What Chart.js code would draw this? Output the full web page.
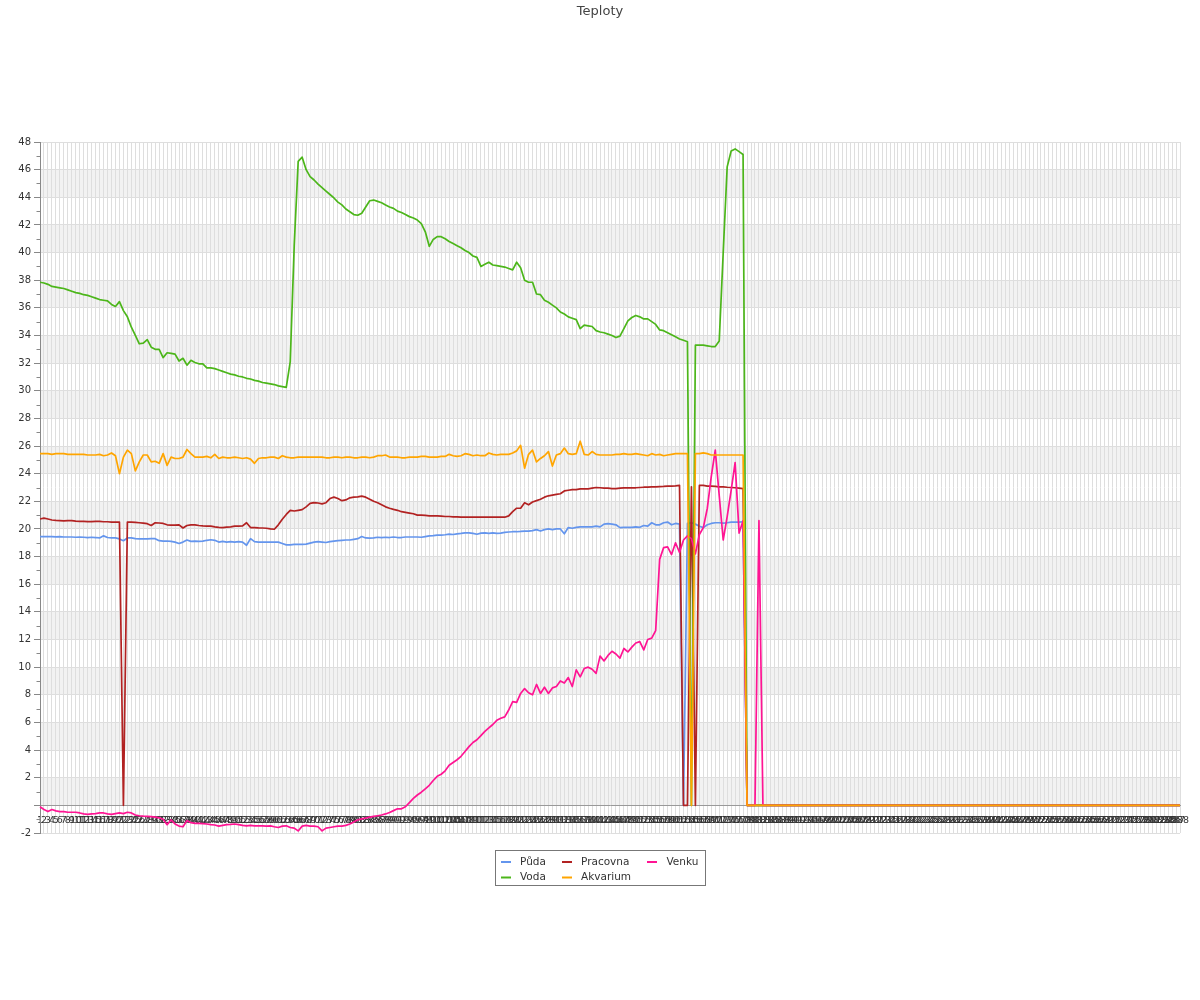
<!DOCTYPE html>
<html><head><meta charset="utf-8">
<script src="https://cdn.jsdelivr.net/npm/chart.js@4"></script>
<style>html,body{margin:0;padding:0;background:#fff;} #wrap{width:1200px;height:1000px;position:relative;}</style>
</head><body><div id="wrap"><canvas id="c" width="1200" height="1000"></canvas></div>
<script>
const chartTitle = 'Teploty';
const categories = '1 2 3 4 5 6 7 8 9 10 11 12 13 14 15 16 17 18 19 20 21 22 23 24 25 26 27 28 29 30 31 32 33 34 35 36 37 38 39 40 41 42 43 44 45 46 47 48 49 50 51 52 53 54 55 56 57 58 59 60 61 62 63 64 65 66 67 68 69 70 71 72 73 74 75 76 77 78 79 80 81 82 83 84 85 86 87 88 89 90 91 92 93 94 95 96 97 98 99 100 101 102 103 104 105 106 107 108 109 110 111 112 113 114 115 116 117 118 119 120 121 122 123 124 125 126 127 128 129 130 131 132 133 134 135 136 137 138 139 140 141 142 143 144 145 146 147 148 149 150 151 152 153 154 155 156 157 158 159 160 161 162 163 164 165 166 167 168 169 170 171 172 173 174 175 176 177 178 179 180 181 182 183 184 185 186 187 188 189 190 191 192 193 194 195 196 197 198 199 200 201 202 203 204 205 206 207 208 209 210 211 212 213 214 215 216 217 218 219 220 221 222 223 224 225 226 227 228 229 230 231 232 233 234 235 236 237 238 239 240 241 242 243 244 245 246 247 248 249 250 251 252 253 254 255 256 257 258 259 260 261 262 263 264 265 266 267 268 269 270 271 272 273 274 275 276 277 278 279 280 281 282 283 284 285 286 287 288'.split(' ');
const seriesNames = ['Půda', 'Voda', 'Pracovna', 'Akvarium', 'Venku'];

const puda = [
19.45,19.45,19.45,19.45,19.43,19.45,19.42,19.42,19.42,19.4,
19.42,19.4,19.38,19.4,19.38,19.35,19.5,19.38,19.35,19.35,
19.28,19.15,19.35,19.35,19.3,19.28,19.28,19.28,19.3,19.3,
19.15,19.12,19.13,19.1,19.05,18.95,19.05,19.2,19.1,19.12,
19.1,19.12,19.18,19.22,19.18,19.05,19.1,19.05,19.08,19.05,
19.08,19.05,18.82,19.3,19.08,19.05,19.05,19.05,19.05,19.05,
19.05,18.95,18.85,18.85,18.88,18.88,18.88,18.9,18.98,19.05,
19.08,19.05,19.02,19.08,19.12,19.15,19.18,19.2,19.2,19.25,
19.3,19.45,19.35,19.33,19.35,19.4,19.38,19.4,19.38,19.42,
19.38,19.38,19.42,19.42,19.42,19.42,19.4,19.45,19.5,19.52,
19.55,19.55,19.58,19.62,19.6,19.65,19.68,19.72,19.72,19.68,
19.62,19.7,19.72,19.68,19.72,19.68,19.7,19.75,19.78,19.8,
19.8,19.82,19.85,19.85,19.88,19.95,19.85,19.95,20.0,19.95,
20.0,20.0,19.65,20.1,20.05,20.12,20.15,20.15,20.15,20.15,
20.2,20.15,20.35,20.38,20.35,20.3,20.1,20.12,20.12,20.12,
20.15,20.12,20.25,20.2,20.45,20.3,20.3,20.45,20.5,20.3,
20.4,20.35,0,20.4,20.45,20.35,20.2,20.1,20.3,20.4,
20.45,20.45,20.42,20.45,20.5,20.5,20.5,20.52,
0,0,0,0,0,0,0,0,0,0,0,0,0,0,0,0,0,0,0,0,0,0,0,0,0,0,0,0,0,0,0,0,0,0,0,0,0,0,0,0,0,0,0,0,0,0,0,0,0,0,0,0,0,0,0,
0,0,0,0,0,0,0,0,0,0,0,0,0,0,0,0,0,0,0,0,0,0,0,0,0,0,0,0,0,0,0,0,0,0,0,0,0,0,0,0,0,0,0,0,0,0,0,0,0,0,0,0,0,0,0
];
const voda = [
37.85,37.8,37.7,37.55,37.5,37.45,37.4,37.3,37.2,37.1,
37.05,36.95,36.9,36.8,36.7,36.6,36.55,36.5,36.25,36.1,
36.45,35.8,35.35,34.6,34.0,33.4,33.45,33.7,33.15,33.0,
33.0,32.4,32.75,32.7,32.65,32.15,32.35,31.85,32.2,32.05,
31.95,31.95,31.65,31.65,31.6,31.5,31.4,31.3,31.2,31.15,
31.05,31.0,30.9,30.85,30.75,30.7,30.6,30.55,30.5,30.45,
30.35,30.3,30.25,32.1,40.5,46.6,46.9,46.0,45.5,45.25,
44.95,44.7,44.45,44.2,43.95,43.65,43.45,43.15,42.95,42.75,
42.7,42.85,43.3,43.75,43.8,43.7,43.6,43.45,43.3,43.2,
43.0,42.9,42.75,42.6,42.5,42.35,42.1,41.5,40.45,40.95,
41.15,41.15,41.0,40.8,40.65,40.5,40.35,40.15,40.0,39.75,
39.65,39.0,39.15,39.3,39.1,39.05,39.0,38.95,38.85,38.75,
39.3,38.9,38.0,37.85,37.85,37.0,36.95,36.55,36.4,36.2,
36.0,35.7,35.55,35.35,35.25,35.15,34.5,34.75,34.7,34.65,
34.35,34.25,34.2,34.1,34.0,33.85,33.95,34.5,35.05,35.3,
35.45,35.35,35.2,35.2,35.0,34.8,34.4,34.35,34.2,34.05,
33.9,33.75,33.65,33.55,0,33.3,33.3,33.3,33.25,33.2,
33.2,33.6,40.0,46.2,47.35,47.5,47.3,47.1,
0,0,0,0,0,0,0,0,0,0,0,0,0,0,0,0,0,0,0,0,0,0,0,0,0,0,0,0,0,0,0,0,0,0,0,0,0,0,0,0,0,0,0,0,0,0,0,0,0,0,0,0,0,0,0,
0,0,0,0,0,0,0,0,0,0,0,0,0,0,0,0,0,0,0,0,0,0,0,0,0,0,0,0,0,0,0,0,0,0,0,0,0,0,0,0,0,0,0,0,0,0,0,0,0,0,0,0,0,0,0
];
const pracovna = [
20.72,20.78,20.72,20.65,20.62,20.6,20.58,20.6,20.6,20.57,
20.55,20.55,20.53,20.53,20.55,20.55,20.52,20.52,20.5,20.5,
20.5,0,20.5,20.5,20.48,20.45,20.42,20.38,20.25,20.45,
20.43,20.4,20.3,20.28,20.28,20.3,20.07,20.25,20.3,20.3,
20.25,20.22,20.2,20.2,20.15,20.12,20.1,20.13,20.15,20.2,
20.2,20.22,20.45,20.1,20.1,20.08,20.07,20.05,20.0,19.98,
20.3,20.7,21.05,21.35,21.3,21.35,21.4,21.6,21.85,21.9,
21.88,21.82,21.9,22.2,22.3,22.2,22.05,22.1,22.25,22.3,
22.32,22.38,22.3,22.15,22.0,21.9,21.75,21.6,21.5,21.42,
21.35,21.25,21.2,21.15,21.1,21.0,21.0,20.98,20.95,20.95,
20.95,20.93,20.9,20.9,20.88,20.88,20.85,20.85,20.85,20.85,
20.85,20.85,20.85,20.85,20.85,20.85,20.85,20.85,20.95,21.25,
21.5,21.5,21.9,21.75,21.95,22.05,22.15,22.3,22.4,22.45,
22.5,22.55,22.75,22.8,22.85,22.85,22.9,22.9,22.9,22.95,
23.0,22.98,22.95,22.95,22.92,22.92,22.95,22.97,22.97,22.97,
22.98,23.0,23.02,23.03,23.05,23.05,23.07,23.08,23.1,23.1,
23.12,23.15,0,0,23.05,0,23.15,23.15,23.1,23.1,
23.08,23.05,23.05,23.02,23.0,22.98,22.95,22.92,
0,0,0,0,0,0,0,0,0,0,0,0,0,0,0,0,0,0,0,0,0,0,0,0,0,0,0,0,0,0,0,0,0,0,0,0,0,0,0,0,0,0,0,0,0,0,0,0,0,0,0,0,0,0,0,
0,0,0,0,0,0,0,0,0,0,0,0,0,0,0,0,0,0,0,0,0,0,0,0,0,0,0,0,0,0,0,0,0,0,0,0,0,0,0,0,0,0,0,0,0,0,0,0,0,0,0,0,0,0,0
];
const akvarium = [
25.45,25.45,25.45,25.4,25.45,25.45,25.45,25.4,25.4,25.4,
25.4,25.4,25.35,25.35,25.35,25.4,25.3,25.35,25.5,25.3,
24.0,25.2,25.7,25.45,24.2,24.85,25.35,25.35,24.85,24.9,
24.75,25.45,24.6,25.2,25.1,25.1,25.2,25.75,25.45,25.2,
25.2,25.2,25.25,25.15,25.4,25.1,25.2,25.15,25.15,25.2,
25.15,25.1,25.15,25.05,24.75,25.1,25.15,25.15,25.2,25.2,
25.1,25.3,25.2,25.15,25.15,25.2,25.2,25.2,25.2,25.2,
25.2,25.2,25.15,25.15,25.2,25.2,25.15,25.2,25.2,25.15,
25.15,25.2,25.2,25.15,25.2,25.3,25.3,25.35,25.2,25.2,
25.2,25.15,25.15,25.2,25.2,25.2,25.25,25.25,25.2,25.2,
25.2,25.25,25.25,25.4,25.3,25.25,25.3,25.45,25.4,25.3,
25.35,25.3,25.3,25.5,25.4,25.35,25.4,25.4,25.4,25.5,
25.65,26.05,24.4,25.4,25.7,24.85,25.1,25.3,25.6,24.55,
25.35,25.45,25.85,25.45,25.4,25.45,26.35,25.4,25.35,25.6,
25.4,25.35,25.35,25.35,25.35,25.4,25.4,25.45,25.4,25.4,
25.45,25.4,25.35,25.3,25.45,25.35,25.4,25.3,25.35,25.4,
25.45,25.45,25.45,25.45,0,25.45,25.45,25.5,25.45,25.35,
25.35,25.35,25.35,25.35,25.35,25.35,25.35,25.35,
0,0,0,0,0,0,0,0,0,0,0,0,0,0,0,0,0,0,0,0,0,0,0,0,0,0,0,0,0,0,0,0,0,0,0,0,0,0,0,0,0,0,0,0,0,0,0,0,0,0,0,0,0,0,0,
0,0,0,0,0,0,0,0,0,0,0,0,0,0,0,0,0,0,0,0,0,0,0,0,0,0,0,0,0,0,0,0,0,0,0,0,0,0,0,0,0,0,0,0,0,0,0,0,0,0,0,0,0,0,0
];
const venku = [
-0.1,-0.3,-0.45,-0.3,-0.4,-0.45,-0.45,-0.5,-0.5,-0.5,
-0.55,-0.62,-0.65,-0.62,-0.6,-0.55,-0.55,-0.62,-0.65,-0.6,
-0.55,-0.6,-0.5,-0.55,-0.7,-0.75,-0.78,-0.8,-0.82,-0.85,
-0.9,-1.0,-1.4,-1.05,-1.35,-1.5,-1.55,-1.1,-1.25,-1.3,
-1.3,-1.32,-1.35,-1.4,-1.42,-1.5,-1.45,-1.4,-1.38,-1.35,
-1.4,-1.45,-1.48,-1.45,-1.48,-1.48,-1.48,-1.5,-1.48,-1.55,
-1.6,-1.5,-1.48,-1.6,-1.65,-1.85,-1.5,-1.45,-1.5,-1.5,
-1.55,-1.85,-1.65,-1.6,-1.55,-1.5,-1.5,-1.45,-1.35,-1.2,
-1.05,-0.98,-0.92,-0.85,-0.8,-0.75,-0.7,-0.62,-0.52,-0.38,
-0.25,-0.25,-0.1,0.2,0.5,0.75,0.95,1.2,1.45,1.8,
2.1,2.25,2.5,2.9,3.1,3.3,3.55,3.9,4.25,4.55,
4.75,5.05,5.35,5.6,5.85,6.15,6.3,6.4,6.9,7.5,
7.45,8.1,8.45,8.15,8.0,8.75,8.1,8.55,8.1,8.5,
8.6,9.0,8.85,9.25,8.6,9.8,9.3,9.9,10.0,9.85,
9.55,10.8,10.45,10.85,11.15,10.95,10.65,11.35,11.1,11.45,
11.75,11.85,11.25,12.0,12.1,12.65,17.8,18.65,18.7,18.15,
19.0,18.3,19.2,19.5,19.3,18.2,19.6,20.1,21.5,23.8,
25.7,22.4,19.2,20.9,22.8,24.8,19.7,20.6,
0,0,0,20.6,
0,0,0,0,0,0,0,0,0,0,0,0,0,0,0,0,0,0,0,0,0,0,0,0,0,0,0,0,0,0,0,0,0,0,0,0,0,0,0,0,0,0,0,0,0,0,0,0,0,0,0,0,0,
0,0,0,0,0,0,0,0,0,0,0,0,0,0,0,0,0,0,0,0,0,0,0,0,0,0,0,0,0,0,0,0,0,0,0,0,0,0,0,0,0,0,0,0,0,0,0,0,0,0,0,0,0
];

const seriesColors = ['#6495ED', '#4CB61A', '#B22222', '#FFA500', '#FF1493'];
const drawOrder = [4, 2, 3, 0, 1];
const legendOrder = [0, 2, 4, 1, 3];
const yMin = -2, yMax = 48, yStep = 2;

const allSeries = [puda, voda, pracovna, akvarium, venku];
const bad = allSeries.map((s, i) => s.length !== categories.length ? seriesNames[i] + ':' + s.length : null).filter(Boolean);
if (bad.length) { document.body.insertAdjacentHTML('beforeend', '<div style="position:absolute;top:900px;left:10px;color:red">LEN ' + categories.length + ' ' + bad.join(' ') + '</div>'); }

const FONT = '"DejaVu Sans", sans-serif';

const bandsPlugin = {
  id: 'bands',
  beforeDraw(chart) {
    const {ctx, chartArea} = chart;
    const y = chart.scales.y;
    ctx.save();
    ctx.fillStyle = '#f2f2f2';
    for (let v = 0; v + 2 <= yMax; v += 4) {
      const t = y.getPixelForValue(v + 2), b = y.getPixelForValue(v);
      ctx.fillRect(chartArea.left, t, chartArea.right - chartArea.left, b - t);
    }
    ctx.restore();
  }
};

const decorPlugin = {
  id: 'decor',
  afterDraw(chart) {
    const {ctx, chartArea} = chart;
    const y = chart.scales.y;
    ctx.save();
    ctx.strokeStyle = '#888';
    ctx.lineWidth = 1;
    ctx.beginPath();
    for (let v = yMin + 1; v < yMax; v += 2) {
      const py = Math.round(y.getPixelForValue(v)) + 0.5;
      ctx.moveTo(chartArea.left - 3.5, py);
      ctx.lineTo(chartArea.left, py);
    }
    ctx.stroke();
    ctx.fillStyle = '#444';
    ctx.font = '13px ' + FONT;
    ctx.textAlign = 'center';
    ctx.textBaseline = 'alphabetic';
    ctx.fillText(chartTitle, 600, 14.5);
    const bx = 495.5, by = 850.5, bw = 210, bh = 35;
    ctx.strokeStyle = '#777';
    ctx.strokeRect(bx, by, bw, bh);
    const colMarker = [501, 562, 647];
    const colText = [520, 581, 666.5];
    const rowY = [862, 877.5];
    ctx.font = '10.5px ' + FONT;
    ctx.textAlign = 'left';
    legendOrder.forEach((si, k) => {
      const r = Math.floor(k / 3), c = k % 3;
      ctx.strokeStyle = seriesColors[si];
      ctx.lineWidth = 2;
      ctx.beginPath();
      ctx.moveTo(colMarker[c], rowY[r]);
      ctx.lineTo(colMarker[c] + 10, rowY[r]);
      ctx.stroke();
      ctx.fillStyle = '#333';
      ctx.fillText(seriesNames[si], colText[c], rowY[r] + 2.5);
    });
    ctx.restore();
  }
};

const datasets = allSeries.map((d, i) => ({
  label: seriesNames[i],
  data: d,
  borderColor: seriesColors[i],
  backgroundColor: seriesColors[i],
  borderWidth: 1.7,
  pointRadius: 0,
  pointHoverRadius: 0,
  tension: 0,
  fill: false,
  order: drawOrder[i],
  borderJoinStyle: 'round'
}));

new Chart(document.getElementById('c'), {
  type: 'line',
  data: { labels: categories, datasets },
  options: {
    responsive: false,
    animation: false,
    events: [],
    layout: { padding: { top: 142, right: 20, bottom: 167, left: 0 } },
    plugins: { legend: { display: false }, title: { display: false }, tooltip: { enabled: false } },
    scales: {
      x: {
        type: 'category',
        position: { y: 0 },
        grid: { color: '#dedede', drawTicks: false, lineWidth: 1 },
        border: { color: '#999' },
        ticks: { autoSkip: false, maxRotation: 0, minRotation: 0, padding: 9, color: '#333', font: { family: FONT, size: 9.5 } }
      },
      y: {
        type: 'linear',
        min: yMin, max: yMax,
        position: 'left',
        afterFit: (s) => { s.width = 40; },
        grid: { color: '#dedede', tickColor: '#888', tickLength: 6 },
        border: { color: '#888' },
        ticks: { stepSize: yStep, autoSkip: false, padding: 3, color: '#333', font: { family: FONT, size: 10 },
          callback: (v) => (v === 0 ? '' : String(v)) }
      }
    }
  },
  plugins: [bandsPlugin, decorPlugin]
});
</script>
</body></html>
